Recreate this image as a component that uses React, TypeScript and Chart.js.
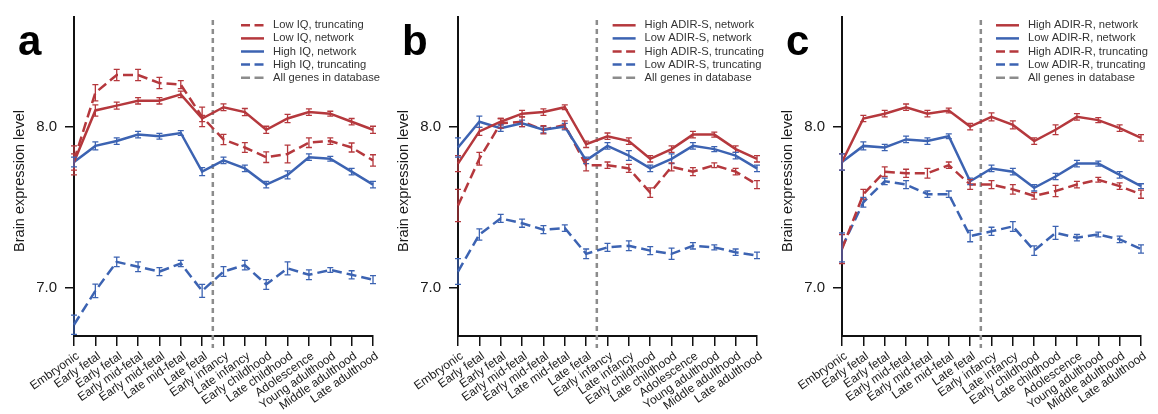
import React, { useEffect, useRef } from "react";
import { Chart, registerables } from "chart.js";

Chart.register(...registerables);

const FONT = '"Liberation Sans", Arial, Helvetica, sans-serif';
const RED = "#b5383d";
const BLUE = "#3c63b2";
const GREY = "#8c8c8c";
const TEXT = "#1a1a1a";

const STAGES = [
  "Embryonic",
  "Early fetal",
  "Early fetal",
  "Early mid-fetal",
  "Early mid-fetal",
  "Late mid-fetal",
  "Late fetal",
  "Early infancy",
  "Late infancy",
  "Early childhood",
  "Late childhood",
  "Adolescence",
  "Young adulthood",
  "Middle adulthood",
  "Late adulthood",
];
const Y_TICKS = [7, 8];
const Y_MIN = 6.7;
const Y_MAX = 8.68;
const BIRTH_POS = 6.5;
const ALL_GENES_LABEL = "All genes in database";

// Panel a
const A_LOWIQ_TRUNC = [7.79, 8.21, 8.32, 8.32, 8.27, 8.26, 8.06, 7.92, 7.87, 7.81, 7.83, 7.9, 7.91, 7.87, 7.79];
const A_LOWIQ_TRUNC_ERR = [0.09, 0.05, 0.035, 0.035, 0.035, 0.025, 0.06, 0.032, 0.03, 0.033, 0.055, 0.03, 0.02, 0.028, 0.035];
const A_LOWIQ_NET = [7.78, 8.1, 8.13, 8.16, 8.16, 8.2, 8.05, 8.12, 8.09, 7.98, 8.05, 8.09, 8.08, 8.03, 7.98];
const A_LOWIQ_NET_ERR = [0.05, 0.035, 0.022, 0.02, 0.02, 0.02, 0.02, 0.021, 0.022, 0.022, 0.025, 0.02, 0.015, 0.02, 0.022];
const A_HIGHIQ_NET = [7.78, 7.88, 7.91, 7.95, 7.94, 7.96, 7.72, 7.79, 7.74, 7.64, 7.7, 7.81, 7.8, 7.72, 7.64];
const A_HIGHIQ_NET_ERR = [0.03, 0.025, 0.02, 0.02, 0.018, 0.015, 0.025, 0.02, 0.02, 0.02, 0.025, 0.02, 0.015, 0.02, 0.02];
const A_HIGHIQ_TRUNC = [6.77, 6.98, 7.16, 7.13, 7.1, 7.15, 6.98, 7.1, 7.14, 7.02, 7.12, 7.08, 7.11, 7.08, 7.05];
const A_HIGHIQ_TRUNC_ERR = [0.06, 0.042, 0.03, 0.03, 0.025, 0.02, 0.04, 0.03, 0.03, 0.03, 0.04, 0.03, 0.015, 0.025, 0.025];

// Panel b
const B_HIGH_NET = [7.77, 7.97, 8.03, 8.08, 8.09, 8.12, 7.89, 7.94, 7.91, 7.8, 7.86, 7.95, 7.95, 7.86, 7.8];
const B_HIGH_NET_ERR = [0.05, 0.025, 0.02, 0.02, 0.02, 0.015, 0.02, 0.02, 0.02, 0.02, 0.02, 0.02, 0.015, 0.02, 0.02];
const B_LOW_NET = [7.87, 8.03, 7.99, 8.02, 7.98, 8.0, 7.79, 7.88, 7.82, 7.74, 7.8, 7.88, 7.86, 7.82, 7.74];
const B_LOW_NET_ERR = [0.06, 0.035, 0.02, 0.02, 0.02, 0.02, 0.02, 0.02, 0.03, 0.02, 0.03, 0.02, 0.015, 0.02, 0.02];
const B_HIGH_TRUNC = [7.51, 7.8, 8.02, 8.03, 7.98, 8.01, 7.76, 7.76, 7.74, 7.59, 7.75, 7.72, 7.76, 7.72, 7.64];
const B_HIGH_TRUNC_ERR = [0.1, 0.04, 0.03, 0.03, 0.025, 0.025, 0.035, 0.02, 0.025, 0.03, 0.025, 0.025, 0.015, 0.02, 0.025];
const B_LOW_TRUNC = [7.1, 7.33, 7.43, 7.4, 7.36, 7.37, 7.21, 7.25, 7.26, 7.23, 7.21, 7.26, 7.25, 7.22, 7.2];
const B_LOW_TRUNC_ERR = [0.08, 0.035, 0.025, 0.025, 0.025, 0.02, 0.03, 0.025, 0.03, 0.025, 0.035, 0.02, 0.015, 0.02, 0.02];

// Panel c
const C_HIGH_NET = [7.78, 8.05, 8.08, 8.12, 8.08, 8.1, 8.0, 8.06, 8.01, 7.91, 7.98, 8.06, 8.04, 7.99, 7.93];
const C_HIGH_NET_ERR = [0.05, 0.02, 0.02, 0.02, 0.02, 0.015, 0.02, 0.025, 0.025, 0.02, 0.03, 0.02, 0.015, 0.02, 0.02];
const C_LOW_NET = [7.78, 7.88, 7.87, 7.92, 7.91, 7.94, 7.66, 7.74, 7.72, 7.62, 7.69, 7.77, 7.77, 7.7, 7.63];
const C_LOW_NET_ERR = [0.05, 0.025, 0.02, 0.02, 0.02, 0.015, 0.02, 0.02, 0.02, 0.02, 0.02, 0.02, 0.015, 0.02, 0.015];
const C_HIGH_TRUNC = [7.24, 7.58, 7.72, 7.71, 7.71, 7.76, 7.64, 7.64, 7.61, 7.57, 7.6, 7.64, 7.67, 7.63, 7.58];
const C_HIGH_TRUNC_ERR = [0.09, 0.03, 0.03, 0.025, 0.03, 0.02, 0.03, 0.025, 0.03, 0.02, 0.035, 0.02, 0.015, 0.02, 0.025];
const C_LOW_TRUNC = [7.25, 7.53, 7.66, 7.64, 7.58, 7.58, 7.32, 7.35, 7.38, 7.23, 7.34, 7.31, 7.33, 7.3, 7.24];
const C_LOW_TRUNC_ERR = [0.09, 0.03, 0.02, 0.025, 0.02, 0.02, 0.035, 0.025, 0.03, 0.03, 0.04, 0.02, 0.015, 0.02, 0.025];

type Series = { label: string; color: string; dashed: boolean; values: number[]; err: number[] };
type PanelCfg = { letter: string; left: number; series: Series[] };

const PANELS: PanelCfg[] = [
  {
    letter: "a",
    left: 0,
    series: [
      { label: "Low IQ, truncating", color: RED, dashed: true, values: A_LOWIQ_TRUNC, err: A_LOWIQ_TRUNC_ERR },
      { label: "Low IQ, network", color: RED, dashed: false, values: A_LOWIQ_NET, err: A_LOWIQ_NET_ERR },
      { label: "High IQ, network", color: BLUE, dashed: false, values: A_HIGHIQ_NET, err: A_HIGHIQ_NET_ERR },
      { label: "High IQ, truncating", color: BLUE, dashed: true, values: A_HIGHIQ_TRUNC, err: A_HIGHIQ_TRUNC_ERR },
    ],
  },
  {
    letter: "b",
    left: 384,
    series: [
      { label: "High ADIR-S, network", color: RED, dashed: false, values: B_HIGH_NET, err: B_HIGH_NET_ERR },
      { label: "Low ADIR-S, network", color: BLUE, dashed: false, values: B_LOW_NET, err: B_LOW_NET_ERR },
      { label: "High ADIR-S, truncating", color: RED, dashed: true, values: B_HIGH_TRUNC, err: B_HIGH_TRUNC_ERR },
      { label: "Low ADIR-S, truncating", color: BLUE, dashed: true, values: B_LOW_TRUNC, err: B_LOW_TRUNC_ERR },
    ],
  },
  {
    letter: "c",
    left: 768,
    series: [
      { label: "High ADIR-R, network", color: RED, dashed: false, values: C_HIGH_NET, err: C_HIGH_NET_ERR },
      { label: "Low ADIR-R, network", color: BLUE, dashed: false, values: C_LOW_NET, err: C_LOW_NET_ERR },
      { label: "High ADIR-R, truncating", color: RED, dashed: true, values: C_HIGH_TRUNC, err: C_HIGH_TRUNC_ERR },
      { label: "Low ADIR-R, truncating", color: BLUE, dashed: true, values: C_LOW_TRUNC, err: C_LOW_TRUNC_ERR },
    ],
  },
];

const W = 386;
const H = 414;
const LINE_DASH = [10, 5];

function makePlugin(cfg: PanelCfg) {
  return {
    id: "panelExtras" + cfg.letter,
    beforeDatasetsDraw(chart: any) {
      const ctx = chart.ctx;
      const xs = chart.scales.x;
      const x = xs.getPixelForValue(BIRTH_POS);
      ctx.save();
      ctx.strokeStyle = GREY;
      ctx.lineWidth = 2.5;
      ctx.setLineDash([5, 4]);
      ctx.beginPath();
      ctx.moveTo(x, chart.chartArea.top + 3);
      ctx.lineTo(x, chart.chartArea.bottom + 12);
      ctx.stroke();
      ctx.restore();
    },
    afterDatasetsDraw(chart: any) {
      const ctx = chart.ctx;
      const xs = chart.scales.x;
      const ys = chart.scales.y;
      chart.data.datasets.forEach((ds: any) => {
        const err: number[] = ds.err;
        if (!err) return;
        ctx.save();
        ctx.strokeStyle = ds.borderColor;
        ctx.lineWidth = 1.3;
        ctx.setLineDash([]);
        ds.data.forEach((v: number, i: number) => {
          const x = xs.getPixelForValue(i);
          const y1 = ys.getPixelForValue(v - err[i]);
          const y2 = ys.getPixelForValue(v + err[i]);
          ctx.beginPath();
          ctx.moveTo(x, y1);
          ctx.lineTo(x, y2);
          ctx.moveTo(x - 3, y1);
          ctx.lineTo(x + 3, y1);
          ctx.moveTo(x - 3, y2);
          ctx.lineTo(x + 3, y2);
          ctx.stroke();
        });
        ctx.restore();
      });
    },
    afterDraw(chart: any) {
      const ctx = chart.ctx;
      ctx.save();
      // panel letter
      ctx.fillStyle = "#000";
      ctx.font = `bold 42px ${FONT}`;
      ctx.textAlign = "left";
      ctx.textBaseline = "alphabetic";
      ctx.fillText(cfg.letter, 18, 55);
      // y title
      ctx.save();
      ctx.translate(19.5, 181);
      ctx.rotate(-Math.PI / 2);
      ctx.font = `14.5px ${FONT}`;
      ctx.fillStyle = TEXT;
      ctx.textAlign = "center";
      ctx.textBaseline = "middle";
      ctx.fillText("Brain expression level", 0, 0);
      ctx.restore();
      // legend
      const items = [
        ...cfg.series.map((s) => ({ label: s.label, color: s.color, dashed: s.dashed })),
        { label: ALL_GENES_LABEL, color: GREY, dashed: true },
      ];
      ctx.font = `11.2px ${FONT}`;
      const maxW = Math.max(...items.map((it) => ctx.measureText(it.label).width));
      const sample = 23;
      const gap = 9;
      const x0 = 380 - (sample + gap + maxW);
      items.forEach((it, i) => {
        const y = 25.3 + i * 13.1;
        ctx.strokeStyle = it.color;
        ctx.lineWidth = 2.5;
        ctx.setLineDash(it.dashed ? [9, 4.5] : []);
        ctx.beginPath();
        ctx.moveTo(x0, y);
        ctx.lineTo(x0 + sample, y);
        ctx.stroke();
        ctx.setLineDash([]);
        ctx.fillStyle = "#333";
        ctx.textAlign = "left";
        ctx.textBaseline = "middle";
        ctx.fillText(it.label, x0 + sample + gap, y);
      });
      ctx.restore();
    },
  };
}

function Panel({ cfg }: { cfg: PanelCfg }) {
  const ref = useRef<HTMLCanvasElement | null>(null);
  useEffect(() => {
    if (!ref.current) return;
    const chart = new Chart(ref.current, {
      type: "line",
      data: {
        labels: STAGES,
        datasets: cfg.series.map((s) => ({
          label: s.label,
          data: s.values,
          err: s.err,
          borderColor: s.color,
          backgroundColor: s.color,
          borderWidth: 2.5,
          borderDash: s.dashed ? LINE_DASH : [],
          pointRadius: 0,
          pointHoverRadius: 0,
          tension: 0,
          fill: false,
        })) as any,
      },
      options: {
        animation: false,
        responsive: false,
        devicePixelRatio: 1,
        events: [],
        layout: { padding: { left: 0, right: 13, top: 10, bottom: 0 } },
        plugins: {
          legend: { display: false },
          tooltip: { enabled: false },
          title: { display: false },
        },
        scales: {
          x: {
            type: "category",
            offset: false,
            afterFit: (scale: any) => {
              scale.height = 78;
            },
            grid: {
              display: true,
              drawOnChartArea: false,
              drawTicks: true,
              tickLength: 10,
              color: "#111",
              lineWidth: 1.5,
            },
            border: { display: true, color: "#111", width: 2 },
            ticks: {
              autoSkip: false,
              maxRotation: 35,
              minRotation: 35,
              padding: 3,
              labelOffset: 4,
              color: TEXT,
              font: { family: FONT, size: 12 },
            },
          },
          y: {
            type: "linear",
            min: Y_MIN,
            max: Y_MAX,
            afterFit: (scale: any) => {
              scale.width = 74;
            },
            afterBuildTicks: (scale: any) => {
              scale.ticks = Y_TICKS.map((v) => ({ value: v }));
            },
            grid: {
              display: true,
              drawOnChartArea: false,
              drawTicks: true,
              tickLength: 9,
              color: "#111",
              lineWidth: 1.5,
            },
            border: { display: true, color: "#111", width: 2 },
            ticks: {
              padding: 8,
              color: TEXT,
              font: { family: FONT, size: 15 },
              callback: (v: any) => Number(v).toFixed(1),
            },
          },
        },
      } as any,
      plugins: [makePlugin(cfg)],
    });
    return () => chart.destroy();
  }, [cfg]);
  return (
    <canvas
      ref={ref}
      width={W}
      height={H}
      style={{ position: "absolute", left: cfg.left, top: 0, width: W, height: H }}
    />
  );
}

export default function App() {
  return (
    <div
      style={{
        position: "absolute",
        left: 0,
        top: 0,
        width: 1158,
        height: 414,
        background: "#fff",
        overflow: "hidden",
      }}
    >
      {PANELS.map((p) => (
        <Panel key={p.letter} cfg={p} />
      ))}
    </div>
  );
}
